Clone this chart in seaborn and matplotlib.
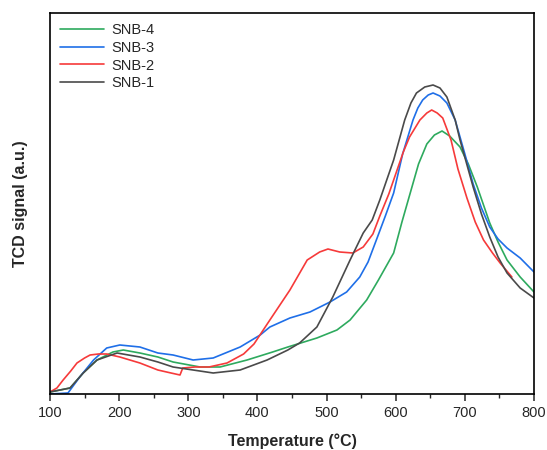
import matplotlib
matplotlib.use("Agg")
import matplotlib.pyplot as plt
import seaborn as sns
import pandas as pd
from matplotlib.ticker import MultipleLocator

# ---- data ----
snb4_t = [100,129,148,168,191,206,230,256,278,317,346,385,422,444,486,515,534,558,575,597,609,621,633,645,656,667,678,693,705,718,736,748,761,780,800]
snb4_v = [2,6,21,34,42,44,41,37,32,27,27,34,42,47,56,64,74,94,114,141,172,201,230,250,259,263,258,247,230,207,171,152,134,117,102]

snb3_t = [100,126,143,163,182,201,230,256,278,307,336,375,404,418,447,476,505,529,548,560,572,585,597,610,625,632,639,647,654,664,674,686,700,712,724,736,748,761,780,800]
snb3_v = [0,1,17,34,46,49,47,41,39,34,36,47,59,67,76,82,92,102,117,132,154,178,201,240,274,286,294,299,301,298,291,274,240,210,186,167,155,146,136,122]

snb2_t = [100,110,119,130,139,150,158,170,182,201,230,256,275,288,292,310,330,356,380,395,418,447,472,490,502,519,538,553,567,577,590,602,611,620,635,645,652,660,668,680,690,703,715,727,740,751,768]
snb2_v = [2,6,14,23,31,36,39,40,40,37,31,24,21,19,26,27,27,31,40,50,74,104,134,142,145,142,141,147,160,178,200,224,242,257,274,281,284,281,276,254,225,196,172,154,141,131,117]

snb1_t = [100,129,148,168,197,230,256,278,307,336,375,414,444,461,486,509,534,553,566,577,597,613,622,630,642,654,664,674,686,693,712,724,736,748,761,780,800]
snb1_v = [2,6,21,34,41,37,32,27,24,21,24,34,44,51,67,97,134,161,174,194,234,274,291,301,307,309,306,297,274,254,207,180,157,137,121,106,96]

labels = ["SNB-4", "SNB-3", "SNB-2", "SNB-1"]
colors = ["#2EAA5E", "#1F6FE8", "#F63A3A", "#4A4A4A"]
x_ticks = [100, 200, 300, 400, 500, 600, 700, 800]

frames = []
for name, t, v in [("SNB-4", snb4_t, snb4_v), ("SNB-3", snb3_t, snb3_v),
                   ("SNB-2", snb2_t, snb2_v), ("SNB-1", snb1_t, snb1_v)]:
    frames.append(pd.DataFrame({"T": t, "signal": v, "sample": name}))
df = pd.concat(frames, ignore_index=True)

sns.set_style("ticks")
plt.rcParams["font.family"] = ["Liberation Sans", "DejaVu Sans"]

fig = plt.figure(figsize=(5.47, 4.5), dpi=100)
ax = fig.add_axes([50/547, 1-394/450, (534-50)/547, (394-13)/450])

sns.lineplot(data=df, x="T", y="signal", hue="sample", hue_order=labels,
             palette=dict(zip(labels, colors)), linewidth=1.2, ax=ax,
             sort=True, estimator=None)

ax.set_xlim(100, 800)
ax.set_ylim(0, 381)
ax.set_xticks(x_ticks)
ax.set_xticklabels([str(t) for t in x_ticks], fontsize=10.5)
ax.xaxis.set_minor_locator(MultipleLocator(50))
ax.tick_params(axis="x", which="major", direction="out", length=5, width=1.1)
ax.tick_params(axis="x", which="minor", direction="out", length=3, width=1.0)
ax.set_yticks([])
ax.set_xlabel("Temperature (\u00b0C)", fontsize=11.5, fontweight="bold", labelpad=10)
ax.set_ylabel("TCD signal (a.u.)", fontsize=11.5, fontweight="bold", labelpad=16)
for s in ax.spines.values():
    s.set_visible(True)
    s.set_linewidth(1.2)
    s.set_color("black")

ax.legend(loc="upper left", frameon=False, fontsize=10.5, handlelength=3.0,
          handletextpad=0.5, labelspacing=0.25, borderaxespad=0.3,
          bbox_to_anchor=(0.0, 1.0))

fig.savefig("out.png", dpi=100)
